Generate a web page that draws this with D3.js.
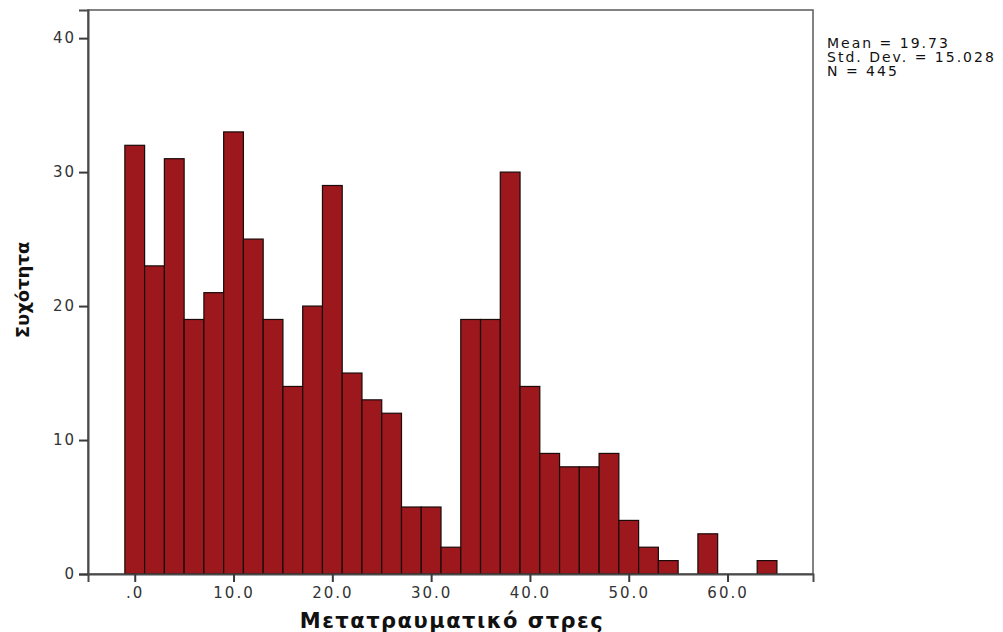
<!DOCTYPE html>
<html>
<head>
<meta charset="utf-8">
<script src="https://cdn.jsdelivr.net/npm/d3@7"></script>
<style>
  body { margin: 0; background: #fff; }
  svg text { font-family: "DejaVu Sans", sans-serif; }
</style>
</head>
<body>
<svg id="chart" width="1003" height="632"></svg>
<script>
// bin centers (width 2) and counts
const binCenters = [0, 2, 4, 6, 8, 10, 12, 14, 16, 18, 20, 22, 24, 26, 28, 30, 32,
  34, 36, 38, 40, 42, 44, 46, 48, 50, 52, 54, 56, 58, 60, 62, 64];
const counts = [32, 23, 31, 19, 21, 33, 25, 19, 14, 20, 29, 15, 13, 12, 5, 5, 2,
  19, 19, 30, 14, 9, 8, 8, 9, 4, 2, 1, 0, 3, 0, 0, 1];
const binWidth = 2;
const xTicks = [0, 10, 20, 30, 40, 50, 60];
const yTicks = [0, 10, 20, 30, 40];
const statsLines = ["Mean = 19.73", "Std. Dev. = 15.028", "N = 445"];
const xTitle = "Μετατραυματικό στρες";
const yTitle = "Συχότητα";

const plot = { left: 88, top: 10, right: 813, bottom: 574 };
const barColor = "#9c181d";

const svg = d3.select("#chart");

const x = d3.scaleLinear()
  .domain([-4.73, 68.65])
  .range([plot.left, plot.right]);

const y = d3.scaleLinear()
  .domain([0, 42.1])
  .range([plot.bottom, plot.top]);

// frame
svg.append("rect")
  .attr("x", plot.left)
  .attr("y", plot.top)
  .attr("width", plot.right - plot.left)
  .attr("height", plot.bottom - plot.top)
  .attr("fill", "none")
  .attr("stroke", "#5a5a5a")
  .attr("stroke-width", 1.5);

// bars
const data = binCenters.map((c, i) => ({ c: c, n: counts[i] })).filter(d => d.n > 0);
svg.append("g")
  .selectAll("rect")
  .data(data)
  .enter()
  .append("rect")
  .attr("x", d => x(d.c - binWidth / 2))
  .attr("y", d => y(d.n))
  .attr("width", d => x(d.c + binWidth / 2) - x(d.c - binWidth / 2))
  .attr("height", d => y(0) - y(d.n))
  .attr("fill", barColor)
  .attr("stroke", "#1a0a0a")
  .attr("stroke-width", 1.2);

// axes
const xAxis = svg.append("g")
  .attr("transform", "translate(0," + plot.bottom + ")")
  .call(d3.axisBottom(x).tickValues(xTicks).tickSize(8).tickPadding(5)
    .tickFormat(d => d === 0 ? ".0" : d3.format(".1f")(d)));

const yAxis = svg.append("g")
  .attr("transform", "translate(" + plot.left + ",0)")
  .call(d3.axisLeft(y).tickValues(yTicks).tickSize(9).tickPadding(3));

[xAxis, yAxis].forEach(g => {
  g.select(".domain").attr("stroke", "#4a4a4a").attr("stroke-width", 2);
  g.selectAll(".tick line").attr("stroke", "#3a3a3a").attr("stroke-width", 2);
  g.selectAll(".tick text")
    .attr("fill", "#333")
    .style("font-size", "15px")
    .style("font-family", "DejaVu Sans, sans-serif")
    .style("letter-spacing", "2px");
});

// axis titles
svg.append("text")
  .attr("x", 452)
  .attr("y", 628)
  .attr("text-anchor", "middle")
  .style("font-size", "21px")
  .style("font-weight", "bold")
  .style("letter-spacing", "1.5px")
  .attr("fill", "#111")
  .text(xTitle);

svg.append("text")
  .attr("transform", "translate(29,290) rotate(-90)")
  .attr("text-anchor", "middle")
  .style("font-size", "18px")
  .style("font-weight", "bold")
  .attr("fill", "#111")
  .text(yTitle);

// stats box
svg.append("g")
  .selectAll("text")
  .data(statsLines)
  .enter()
  .append("text")
  .attr("x", 827)
  .attr("y", (d, i) => 48 + i * 14)
  .style("font-size", "14px")
  .style("letter-spacing", "2px")
  .attr("fill", "#111")
  .text(d => d);
</script>
</body>
</html>
